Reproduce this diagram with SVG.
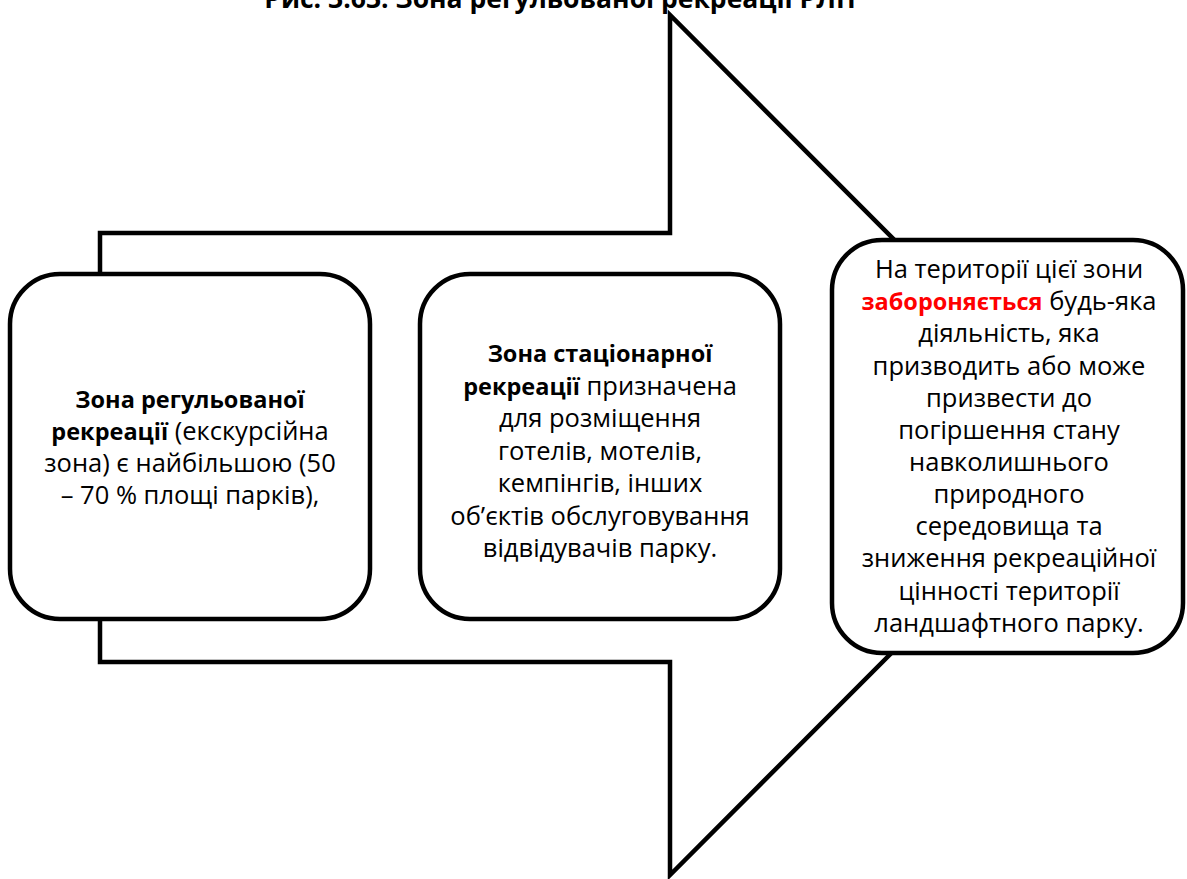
<svg xmlns="http://www.w3.org/2000/svg" width="1187" height="879" viewBox="0 0 1187 879">
<style>
.shape{fill:#fff;stroke:#000;stroke-width:4.5;stroke-linejoin:miter}
.box{fill:#fff;stroke:#000;stroke-width:4.5}
.t{font-family:"Open Sans","Liberation Sans",sans-serif;font-size:25.5px;fill:#000;text-anchor:middle}
.b{font-weight:bold;font-size:23.5px}
.red{fill:#ff0000;font-weight:bold;font-size:23.5px}
.title{font-family:"Open Sans","Liberation Sans",sans-serif;font-size:26.5px;font-weight:bold;text-anchor:middle;fill:#000}
</style>
<rect width="1187" height="879" fill="#fff"/>
<text class="title" x="560" y="8">Рис. 3.63. Зона регульованої рекреації РЛП</text>
<g id="connectors">
<polygon class="shape" points="100,233 670,233 670,15 1099,445 670,875 670,662 100,662"/>
</g>
<g id="node1">
<rect class="box" x="10" y="274" width="360" height="345" rx="50" ry="50"/>
<text class="t" x="190" y="408"><tspan class="b">Зона регульованої</tspan></text>
<text class="t" x="190" y="440"><tspan class="b">рекреації</tspan> (екскурсійна</text>
<text class="t" x="190" y="472">зона) є найбільшою (50</text>
<text class="t" x="190" y="504">– 70 % площі парків),</text>
</g>
<g id="node2">
<rect class="box" x="420" y="274" width="360" height="345" rx="50" ry="50"/>
<text class="t" x="600" y="362"><tspan class="b">Зона стаціонарної</tspan></text>
<text class="t" x="600" y="394.5"><tspan class="b">рекреації</tspan> призначена</text>
<text class="t" x="600" y="427">для розміщення</text>
<text class="t" x="600" y="459.5">готелів, мотелів,</text>
<text class="t" x="600" y="492">кемпінгів, інших</text>
<text class="t" x="600" y="524.5">об’єктів обслуговування</text>
<text class="t" x="600" y="557">відвідувачів парку.</text>
</g>
<g id="node3">
<rect class="box" x="832" y="240" width="351" height="413" rx="50" ry="50"/>
<text class="t" x="1009" y="278">На території цієї зони</text>
<text class="t" x="1009" y="310"><tspan class="red">забороняється</tspan> будь-яка</text>
<text class="t" x="1009" y="342">діяльність, яка</text>
<text class="t" x="1009" y="374.5">призводить або може</text>
<text class="t" x="1009" y="406.5">призвести до</text>
<text class="t" x="1009" y="438.5">погіршення стану</text>
<text class="t" x="1009" y="470.5">навколишнього</text>
<text class="t" x="1009" y="503">природного</text>
<text class="t" x="1009" y="535">середовища та</text>
<text class="t" x="1009" y="567">зниження рекреаційної</text>
<text class="t" x="1009" y="599.5">цінності території</text>
<text class="t" x="1009" y="631.5">ландшафтного парку.</text>
</g>
</svg>
